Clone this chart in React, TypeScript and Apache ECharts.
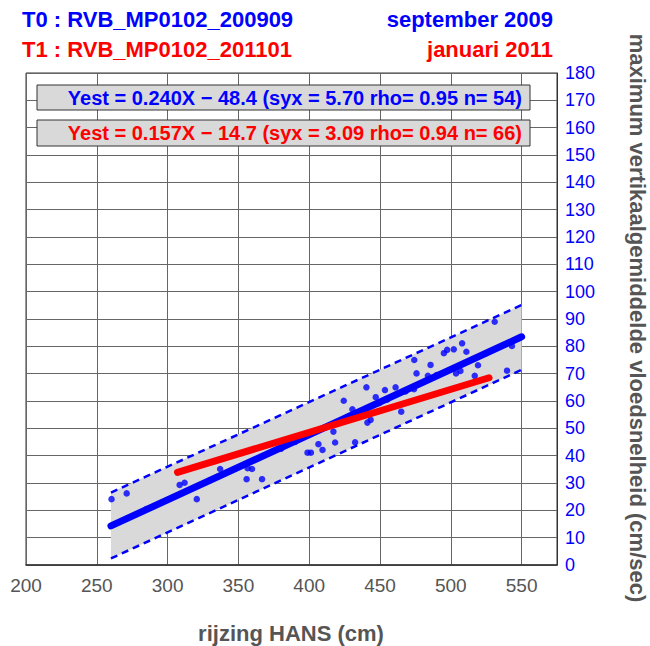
import React, { useEffect, useRef } from "react";
import * as echarts from "echarts";

// ---- data ----
const xMin = 200;
const xMax = 575;
const xInterval = 50;
const yMin = 0;
const yMax = 180;
const yInterval = 10;

const bluePoints: [number, number][] = [
  [260.4, 24.1], [271.1, 26.2], [308.5, 29.3], [312.0, 30.1], [320.6, 24.1],
  [337.1, 35.1], [356.5, 35.4], [359.6, 35.1], [355.8, 31.4], [366.7, 31.4],
  [398.8, 41.1], [401.2, 41.1], [406.5, 44.2], [409.4, 42.1], [418.3, 44.8],
  [417.1, 48.8], [424.4, 60.1], [440.4, 65.0], [453.5, 64.0], [461.0, 65.0],
  [474.2, 75.0], [475.8, 70.1], [485.7, 73.2], [495.1, 77.5], [497.4, 78.7],
  [447.0, 61.4], [449.3, 59.2], [430.5, 57.0], [465.0, 56.1], [474.0, 64.3],
  [483.8, 69.2], [443.4, 53.1], [441.1, 52.1], [432.4, 44.9], [531.0, 89.0],
  [543.2, 80.1], [539.7, 71.1], [508.0, 81.1], [502.1, 78.9], [511.0, 78.0],
  [519.2, 73.1], [506.8, 71.0], [503.7, 70.1], [516.9, 69.2],
  [330.0, 31.0], [380.0, 42.5], [390.0, 45.0], [428.0, 54.5], [455.0, 60.5],
  [468.0, 63.5], [490.0, 69.5], [525.0, 77.5], [548.0, 83.0], [285.0, 20.5],
];

const blueFit: [number, number][] = [[260, 14.3], [550, 83.5]];
const redFit: [number, number][] = [[307, 33.9], [527, 68.5]];
const bandUpper: [number, number][] = [[260, 26.5], [550, 95.1]];
const bandLower: [number, number][] = [[260, 2.4], [550, 71.4]];

const titleT0 = "T0 : RVB_MP0102_200909";
const dateT0 = "september 2009";
const titleT1 = "T1 : RVB_MP0102_201101";
const dateT1 = "januari 2011";
const eqBlue = "Yest = 0.240X \u2212 48.4 (syx = 5.70 rho= 0.95 n= 54)";
const eqRed = "Yest = 0.157X \u2212 14.7 (syx = 3.09 rho= 0.94 n= 66)";
const xName = "rijzing HANS (cm)";
const yName = "maximum vertikaalgemiddelde vloedsnelheid (cm/sec)";

const FONT = "'Liberation Sans', Arial, sans-serif";
const BLUE = "#0000ff";
const RED = "#ff0000";
const GRAY = "#555555";

export default function App() {
  const ref = useRef<HTMLDivElement>(null);

  useEffect(() => {
    if (!ref.current) return;
    const chart = echarts.init(ref.current, undefined, { renderer: "svg" });
    const bandPolygon = [...bandUpper, ...bandLower.slice().reverse()];

    chart.setOption({
      animation: false,
      backgroundColor: "#ffffff",
      grid: {
        left: 26,
        right: 93,
        top: 73,
        bottom: 81,
        show: true,
        borderColor: "#333",
        borderWidth: 1,
        backgroundColor: "#ffffff",
      },
      xAxis: {
        type: "value",
        min: xMin,
        max: xMax,
        interval: xInterval,
        axisLine: { show: true, lineStyle: { color: "#333", width: 1.5 } },
        axisTick: { show: false },
        axisLabel: {
          color: GRAY,
          fontSize: 19,
          fontFamily: FONT,
          margin: 11,
          formatter: (v: number) => (v > 560 ? "" : String(v)),
        },
        splitLine: { show: true, lineStyle: { color: "#666", width: 1 } },
      },
      yAxis: {
        type: "value",
        position: "right",
        min: yMin,
        max: yMax,
        interval: yInterval,
        axisLine: { show: true, lineStyle: { color: "#333", width: 1 } },
        axisTick: { show: false },
        axisLabel: { color: BLUE, fontSize: 18, fontFamily: FONT, margin: 8 },
        splitLine: { show: true, lineStyle: { color: "#666", width: 1 } },
      },
      graphic: [
        { type: "text", x: 22, y: 19, style: { text: titleT0, fill: BLUE, font: `bold 22px ${FONT}`, textVerticalAlign: "middle" } },
        { type: "text", x: 553, y: 19, style: { text: dateT0, fill: BLUE, font: `bold 22px ${FONT}`, textAlign: "right", textVerticalAlign: "middle" } },
        { type: "text", x: 22, y: 49, style: { text: titleT1, fill: RED, font: `bold 22px ${FONT}`, textVerticalAlign: "middle" } },
        { type: "text", x: 553, y: 49, style: { text: dateT1, fill: RED, font: `bold 22px ${FONT}`, textAlign: "right", textVerticalAlign: "middle" } },
        {
          type: "rect", shape: { x: 37, y: 85, width: 493, height: 25 },
          style: { fill: "#d9d9d9", stroke: "#333", lineWidth: 1 }, z: 10,
        },
        {
          type: "text", x: 522, y: 98, z: 11,
          style: { text: eqBlue, fill: BLUE, font: `bold 20px ${FONT}`, textAlign: "right", textVerticalAlign: "middle" },
        },
        {
          type: "rect", shape: { x: 37, y: 120, width: 493, height: 26 },
          style: { fill: "#d9d9d9", stroke: "#333", lineWidth: 1 }, z: 10,
        },
        {
          type: "text", x: 522, y: 133, z: 11,
          style: { text: eqRed, fill: RED, font: `bold 20px ${FONT}`, textAlign: "right", textVerticalAlign: "middle" },
        },
        {
          type: "text", x: 291, y: 633,
          style: { text: xName, fill: GRAY, font: `bold 22px ${FONT}`, textAlign: "center", textVerticalAlign: "middle" },
        },
        {
          type: "text", x: 637, y: 318, rotation: -Math.PI / 2,
          style: { text: yName, fill: GRAY, font: `bold 22px ${FONT}`, textAlign: "center", textVerticalAlign: "middle" },
        },
      ],
      series: [
        {
          type: "custom",
          data: bandPolygon,
          encode: { x: 0, y: 1 },
          silent: true,
          renderItem: (params: any, api: any) => {
            if (params.dataIndex !== 0) return null;
            const pts = bandPolygon.map((p) => api.coord(p));
            return { type: "polygon", shape: { points: pts }, style: { fill: "#d9d9d9" } };
          },
        },
        {
          type: "line",
          data: bandUpper,
          symbol: "none",
          lineStyle: { color: BLUE, width: 2.5, type: [7, 5] },
        },
        {
          type: "line",
          data: bandLower,
          symbol: "none",
          lineStyle: { color: BLUE, width: 2.5, type: [7, 5] },
        },
        {
          type: "scatter",
          data: bluePoints,
          symbol: "circle",
          symbolSize: 6.5,
          itemStyle: { color: BLUE },
        },
        {
          type: "line",
          data: blueFit,
          symbol: "none",
          lineStyle: { color: BLUE, width: 7, cap: "round" },
        },
        {
          type: "line",
          data: redFit,
          symbol: "none",
          lineStyle: { color: RED, width: 7, cap: "round" },
        },
      ],
    });

    return () => chart.dispose();
  }, []);

  return (
    <div
      ref={ref}
      style={{ position: "fixed", left: 0, top: 0, width: 650, height: 646 }}
    />
  );
}
